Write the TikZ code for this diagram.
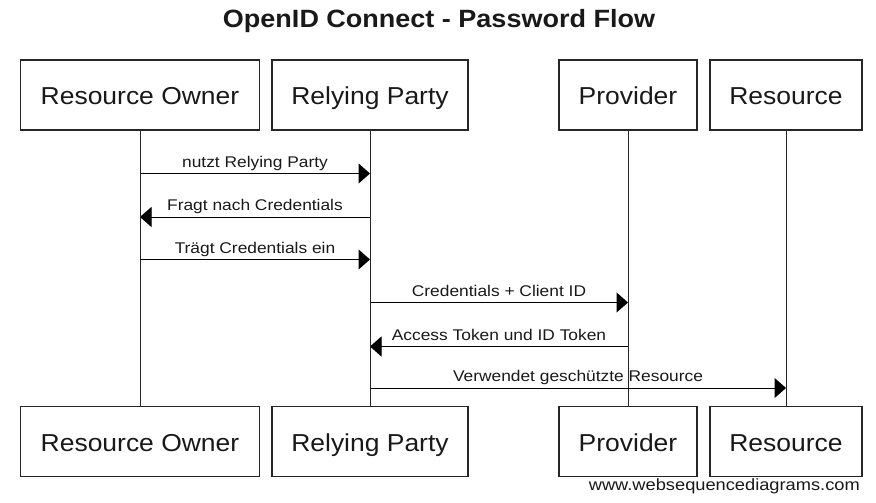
\documentclass[tikz,border=0pt]{standalone}
\usepackage{fontspec}
\setmainfont{Liberation Sans}
\newfontfamily\fontA[FakeStretch=1.08]{Liberation Sans}
\newfontfamily\fontB[FakeStretch=1.12]{Liberation Sans}
\usetikzlibrary{arrows.meta}
\begin{document}
\begin{tikzpicture}[x=1pt,y=-1pt,
  actor/.style={draw=black!85, line width=1.2pt, fill=white, minimum height=70pt,
    inner sep=0pt, text height=20pt, text depth=0pt, font=\fontA\fontsize{24.5}{28}\selectfont, text=black!90},
  life/.style={draw=black!85, line width=1pt},
  msg/.style={draw=black, line width=1pt, -{Triangle[length=11.5pt,width=20pt]}},
  lbl/.style={midway, anchor=base, yshift=6.5pt, inner sep=0pt, font=\fontB\fontsize{15.5}{18}\selectfont, text=black!90}]
\useasboundingbox[fill=white] (0,0) rectangle (876,503);

\node[anchor=base, font=\fontA\bfseries\fontsize{25}{30}\selectfont, inner sep=0pt, text=black!90] (title) at (439,27.5) {OpenID Connect - Password Flow};

\node[actor, minimum width=238.5pt] (roT) at (140,95) {Resource Owner};
\node[actor, minimum width=196pt] (rpT) at (370,95) {Relying Party};
\node[actor, minimum width=138pt] (pvT) at (628,95) {Provider};
\node[actor, minimum width=152pt] (rsT) at (786,95) {Resource};

\node[actor, minimum width=238.5pt] (roB) at (140,441.5) {Resource Owner};
\node[actor, minimum width=196pt] (rpB) at (370,441.5) {Relying Party};
\node[actor, minimum width=138pt] (pvB) at (628,441.5) {Provider};
\node[actor, minimum width=152pt] (rsB) at (786,441.5) {Resource};

\coordinate (ro1) at (140,173.5); \coordinate (rp1) at (370,173.5);
\coordinate (ro2) at (140,217);   \coordinate (rp2) at (370,217);
\coordinate (ro3) at (140,259.5); \coordinate (rp3) at (370,259.5);
\coordinate (rp4) at (370,302.5); \coordinate (pv4) at (628,302.5);
\coordinate (rp5) at (370,346.5); \coordinate (pv5) at (628,346.5);
\coordinate (rp6) at (370,388);   \coordinate (rs6) at (786,388);

\draw[msg] (ro1) -- (rp1) node[lbl] {nutzt Relying Party};
\draw[msg] (rp2) -- (ro2) node[lbl] {Fragt nach Credentials};
\draw[msg] (ro3) -- (rp3) node[lbl] {Trägt Credentials ein};
\draw[msg] (rp4) -- (pv4) node[lbl] {Credentials + Client ID};
\draw[msg] (pv5) -- (rp5) node[lbl] {Access Token und ID Token};
\draw[msg] (rp6) -- (rs6) node[lbl] {Verwendet geschützte Resource};

\draw[life] (roT.south) -- (roB.north);
\draw[life] (rpT.south) -- (rpB.north);
\draw[life] (pvT.south) -- (pvB.north);
\draw[life] (rsT.south) -- (rsB.north);

\node[anchor=base east, inner sep=0pt, font=\fontB\fontsize{16.3}{19}\selectfont, text=black!90] (wm) at (860,490) {www.websequencediagrams.com};
\end{tikzpicture}
\end{document}
